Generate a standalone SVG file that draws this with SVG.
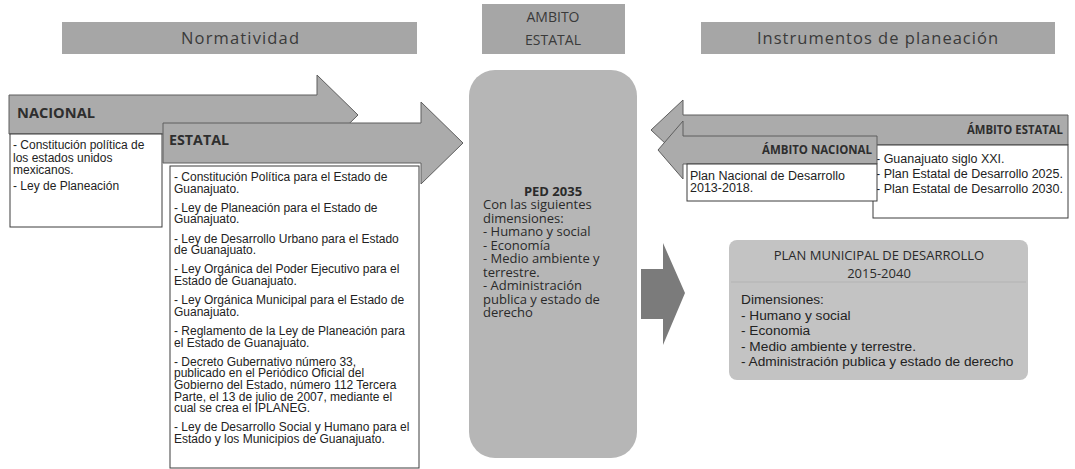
<svg xmlns="http://www.w3.org/2000/svg" width="1075" height="469" viewBox="0 0 1075 469">
<style>
.banner{fill:#a6a6a6}
.hdr{font-family:"Open Sans","Liberation Sans",sans-serif;font-size:16.5px;fill:#3a3a3a}
.hdr2{font-family:"Open Sans","Liberation Sans",sans-serif;font-size:14px;fill:#3a3a3a}
.arrow{fill:#ababab;stroke:#5e5e5e;stroke-width:1}
.lbl{font-family:"Open Sans","Liberation Sans",sans-serif;font-weight:bold;fill:#2e2e2e}
.box{fill:#ffffff;stroke:#3c3c3c;stroke-width:1}
.t{font-family:"Liberation Sans",Arial,sans-serif;font-size:12px;fill:#222}
.t2{font-family:"Liberation Sans",Arial,sans-serif;font-size:12.5px;fill:#222}
.c{font-family:"Open Sans","Liberation Sans",sans-serif;font-size:13px;fill:#2a2a2a}
.pm{font-family:"Liberation Sans",Arial,sans-serif;font-size:13.7px;fill:#222}
</style>

<g id="hdr-normatividad">
<rect class="banner" x="62" y="22" width="355" height="32"/>
<text class="hdr" x="240" y="44" text-anchor="middle" textLength="118" lengthAdjust="spacing">Normatividad</text>
</g>
<g id="hdr-ambito">
<rect class="banner" x="482" y="4" width="143" height="50"/>
<text class="hdr2" text-anchor="middle"><tspan x="553" y="22">AMBITO</tspan><tspan x="553" y="45">ESTATAL</tspan></text>
</g>
<g id="hdr-instrumentos">
<rect class="banner" x="701" y="22" width="354" height="32"/>
<text class="hdr" x="877.5" y="44" text-anchor="middle" textLength="241" lengthAdjust="spacing">Instrumentos de planeación</text>
</g>

<g id="nacional">
<path class="arrow" d="M9,95 H317 V75 L358,115 L317,155 V134 H9 Z"/>
<text class="lbl" x="17" y="118" font-size="14" textLength="78" lengthAdjust="spacingAndGlyphs">NACIONAL</text>
<rect class="box" x="10" y="134" width="152" height="93"/>
<text class="t"><tspan x="13" y="149">- Constitución política de</tspan><tspan x="13" y="161.5">los estados unidos</tspan><tspan x="13" y="174">mexicanos.</tspan><tspan x="13" y="190">- Ley de Planeación</tspan></text>
</g>

<g id="estatal">
<path class="arrow" d="M163,123 H421 V102 L463,143 L421,184 V163 H163 Z"/>
<text class="lbl" x="169" y="145" font-size="14" textLength="60" lengthAdjust="spacingAndGlyphs">ESTATAL</text>
<rect class="box" x="170" y="166" width="249" height="302"/>
<text class="t"><tspan x="174" y="181">- Constitución Política para el Estado de</tspan><tspan x="174" y="192.6">Guanajuato.</tspan><tspan x="174" y="211.8">- Ley de Planeación para el Estado de</tspan><tspan x="174" y="223.4">Guanajuato.</tspan><tspan x="174" y="242.6">- Ley de Desarrollo Urbano para el Estado</tspan><tspan x="174" y="254.2">de Guanajuato.</tspan><tspan x="174" y="273.4">- Ley Orgánica del Poder Ejecutivo para el</tspan><tspan x="174" y="285">Estado de Guanajuato.</tspan><tspan x="174" y="304.2">- Ley Orgánica Municipal para el Estado de</tspan><tspan x="174" y="315.8">Guanajuato.</tspan><tspan x="174" y="335">- Reglamento de la Ley de Planeación para</tspan><tspan x="174" y="346.6">el Estado de Guanajuato.</tspan><tspan x="174" y="365.8">- Decreto Gubernativo número 33,</tspan><tspan x="174" y="377.4">publicado en el Periódico Oficial del</tspan><tspan x="174" y="389">Gobierno del Estado, número 112 Tercera</tspan><tspan x="174" y="400.6">Parte, el 13 de julio de 2007, mediante el</tspan><tspan x="174" y="412.2">cual se crea el IPLANEG.</tspan><tspan x="174" y="431.4">- Ley de Desarrollo Social y Humano para el</tspan><tspan x="174" y="443">Estado y los Municipios de Guanajuato.</tspan></text>
</g>

<g id="ped2035">
<rect x="469" y="70" width="168" height="388" rx="26" fill="#b6b6b6"/>
<text class="c"><tspan x="553" y="195.5" text-anchor="middle" font-weight="bold">PED 2035</tspan><tspan x="483" y="209">Con las siguientes</tspan><tspan x="483" y="222.5">dimensiones:</tspan><tspan x="483" y="236">- Humano y social</tspan><tspan x="483" y="249.5">- Economía</tspan><tspan x="483" y="263">- Medio ambiente y</tspan><tspan x="483" y="276.5">terrestre.</tspan><tspan x="483" y="290">- Administración</tspan><tspan x="483" y="303.5">publica y estado de</tspan><tspan x="483" y="317">derecho</tspan></text>
</g>

<g id="ambito-estatal">
<path class="arrow" d="M1068,115 H683 V100 L651,130 L683,160 V145 H1068 Z"/>
<text class="lbl" x="1063" y="134" font-size="11.5" text-anchor="end" textLength="96" lengthAdjust="spacingAndGlyphs">ÁMBITO ESTATAL</text>
<rect class="box" x="873" y="145" width="195" height="73"/>
<text class="t2"><tspan x="876" y="162.5">- Guanajuato siglo XXI.</tspan><tspan x="876" y="177.5">- Plan Estatal de Desarrollo 2025.</tspan><tspan x="876" y="192.5">- Plan Estatal de Desarrollo 2030.</tspan></text>
</g>

<g id="ambito-nacional">
<path class="arrow" d="M877,136 H683 V121 L658,150 L683,179 V164 H877 Z"/>
<text class="lbl" x="872" y="154" font-size="11.5" text-anchor="end" textLength="110" lengthAdjust="spacingAndGlyphs">ÁMBITO NACIONAL</text>
<rect class="box" x="687" y="164" width="190" height="37"/>
<text class="t2"><tspan x="690" y="180">Plan Nacional de Desarrollo</tspan><tspan x="690" y="192">2013-2018.</tspan></text>
</g>

<g id="plan-municipal">
<rect x="729" y="240" width="299" height="140" rx="8" fill="#c3c3c3"/>
<line x1="731" y1="282" x2="1026" y2="282" stroke="#b3b3b3" stroke-width="1"/>
<text class="c" text-anchor="middle"><tspan x="879" y="260">PLAN MUNICIPAL DE DESARROLLO</tspan><tspan x="879" y="278">2015-2040</tspan></text>
<text class="pm"><tspan x="741" y="304">Dimensiones:</tspan><tspan x="741" y="319.5">- Humano y social</tspan><tspan x="741" y="335">- Economia</tspan><tspan x="741" y="350.5">- Medio ambiente y terrestre.</tspan><tspan x="741" y="366">- Administración publica y estado de derecho</tspan></text>
</g>

<g id="connectors">
<path d="M641,269 H663 V243 L685,293 L663,345 V319 H641 Z" fill="#7b7b7b"/>
</g>
</svg>
